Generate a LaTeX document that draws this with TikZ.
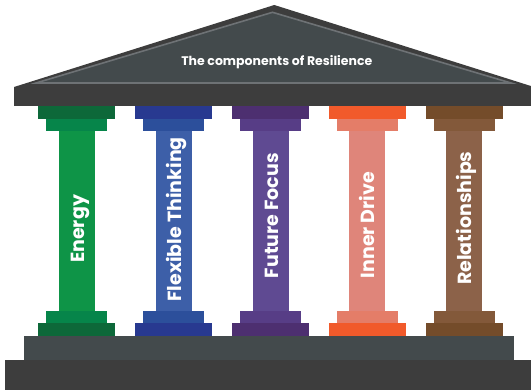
\documentclass[tikz,border=0pt]{standalone}
\usepackage{fontspec}
\setmainfont{Poppins}
\usetikzlibrary{positioning}

% roof and base
\definecolor{roofdark}{HTML}{3D3D3D}
\definecolor{roofface}{HTML}{434A4C}
\definecolor{roofline}{HTML}{6E7275}
% pillar colours: A = capital, B = collar, C = shaft
\definecolor{energyA}{HTML}{0D6839}
\definecolor{energyB}{HTML}{06854A}
\definecolor{energyC}{HTML}{0E9447}
\definecolor{flexA}{HTML}{283990}
\definecolor{flexB}{HTML}{2C4F9B}
\definecolor{flexC}{HTML}{3D5FA8}
\definecolor{futureA}{HTML}{4D2F70}
\definecolor{futureB}{HTML}{573D86}
\definecolor{futureC}{HTML}{5F4A92}
\definecolor{driveA}{HTML}{F15A2B}
\definecolor{driveB}{HTML}{E47D68}
\definecolor{driveC}{HTML}{DF857A}
\definecolor{relA}{HTML}{744C2A}
\definecolor{relB}{HTML}{83593A}
\definecolor{relC}{HTML}{8C6249}

\begin{document}
\begin{tikzpicture}[x=1pt,y=-1pt]
\useasboundingbox (0,0) rectangle (531,390);
% Roof
\fill[roofdark] (14,87) -- (274.3,5) -- (534,87) -- (534,106) -- (14,106) -- cycle;
\draw[roofline, fill=roofface, line width=1.6pt] (36,83) -- (272.5,12.3) -- (511,83) -- cycle;
\node[anchor=base, text=white, font=\bfseries\fontsize{12.5}{15}\selectfont] (title) at (276.8,65.7) {The components of Resilience};

% Pillars
\foreach \x/\col/\name/\ly/\txt in {76.5/energy/energy/263/Energy,
    173.5/flex/flex/301.7/Flexible Thinking, 270.5/future/future/278.3/Future Focus,
    367/drive/drive/278.3/Inner Drive, 464/rel/rel/285/Relationships} {
  \fill[\col A] (\x-38.5,106) rectangle (\x+38.5,118.7);
  \fill[\col B] (\x-30.5,118.7) rectangle (\x+30.5,130.7);
  \fill[\col C] (\x-18,130.7) rectangle (\x+18,311);
  \fill[\col B] (\x-30.5,311) rectangle (\x+30.5,323);
  \fill[\col A] (\x-38.5,323) rectangle (\x+38.5,336);
  \node[rotate=90, anchor=base west, inner sep=0pt, text=white, font=\bfseries\fontsize{19}{22}\selectfont] (\name) at (\x+7.5,\ly) {\txt};
}

% Base
\fill[roofface] (24,336) rectangle (514,360);
\fill[roofdark] (5,360) rectangle (531,390);
\end{tikzpicture}
\end{document}
